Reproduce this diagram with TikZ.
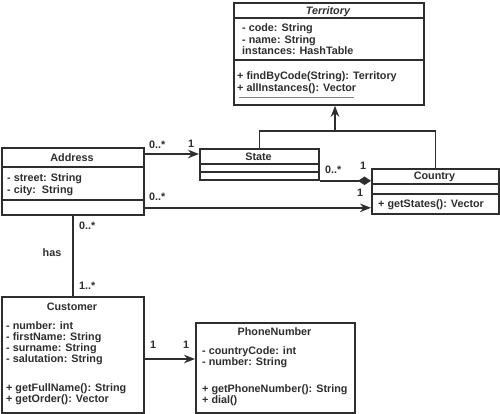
\documentclass[tikz,border=0pt]{standalone}
\usepackage{fontspec}
\setmainfont{Liberation Sans}
\usetikzlibrary{arrows.meta,calc}
\definecolor{ink}{HTML}{2E2E2E}
\begin{document}
\begin{tikzpicture}[x=1pt,y=-1pt,
  cls/.style={draw=ink, line width=1.8pt, inner sep=0pt, anchor=north west, fill=white},
  base/.style={inner sep=0pt, text=ink, font=\fontsize{10.8}{12}\selectfont\bfseries},
  txt/.style={base, anchor=base west},
  ttl/.style={base, anchor=base},
  link/.style={draw=ink, line width=1.6pt},
  arr/.style={link, -{Stealth[length=11pt,width=8.5pt]}},
  comp/.style={link, -{Diamond[length=13pt,width=8.5pt]}},
  sep/.style={draw=ink, line width=1.6pt}]
\path[use as bounding box] (0,0) rectangle (500,413);

% ---------- class boxes ----------
\node[cls, minimum width=190pt, minimum height=102pt] (terr) at (233,2) {};
\node[cls, minimum width=119pt, minimum height=31pt] (state) at (199,148) {};
\node[cls, minimum width=127pt, minimum height=45pt] (country) at (371,168) {};
\node[cls, minimum width=142pt, minimum height=67pt] (address) at (1,147) {};
\node[cls, minimum width=142pt, minimum height=116pt] (customer) at (1,296) {};
\node[cls, minimum width=159pt, minimum height=90pt] (phone) at (195,322) {};

% ---------- compartment dividers ----------
\draw[sep] ([yshift=-16pt]terr.north west) -- ([yshift=-16pt]terr.north east);
\draw[sep] ([yshift=-58pt]terr.north west) -- ([yshift=-58pt]terr.north east);
\draw[sep] ([yshift=-16pt]state.north west) -- ([yshift=-16pt]state.north east);
\draw[sep] ([yshift=-24pt]state.north west) -- ([yshift=-24pt]state.north east);
\draw[sep] ([yshift=-16pt]country.north west) -- ([yshift=-16pt]country.north east);
\draw[sep] ([yshift=-26pt]country.north west) -- ([yshift=-26pt]country.north east);
\draw[sep] ([yshift=-20pt]address.north west) -- ([yshift=-20pt]address.north east);
\draw[sep] ([yshift=-53pt]address.north west) -- ([yshift=-53pt]address.north east);

% ---------- Territory ----------
\node[ttl, font=\fontsize{10.8}{12}\selectfont\bfseries\itshape] (terrT) at (328,14.5) {Territory};
\node[txt] (terrA1) at (242,31.6) {- code: String};
\node[txt] (terrA2) at (242,43) {- name: String};
\node[txt] (terrA3) at (242,54.6) {instances: HashTable};
\node[txt] (terrM1) at (237,79.6) {+ findByCode(String): Territory};
\node[txt] (terrM2) at (237,91.6) {+ allInstances(): Vector};
\draw[draw=ink!60, line width=1.1pt] ([xshift=2pt,yshift=-6pt]terrM2.base west) -- ([xshift=-2pt,yshift=-6pt]terrM2.base east);

% ---------- State ----------
\node[ttl] (stateT) at (258.5,160.6) {State};

% ---------- Country ----------
\node[ttl] (countryT) at (434.5,179.6) {Country};
\node[txt] (countryM1) at (378,207.6) {+ getStates(): Vector};

% ---------- Address ----------
\node[ttl] (addressT) at (72,161.6) {Address};
\node[txt] (addressA1) at (7,181.6) {- street: String};
\node[txt] (addressA2) at (7,193.6) {- city:\ \ String};

% ---------- Customer ----------
\node[ttl] (customerT) at (72,310.6) {Customer};
\node[txt] (customerA1) at (6,329.6) {- number: int};
\node[txt] (customerA2) at (6,340.6) {- firstName: String};
\node[txt] (customerA3) at (6,351.6) {- surname: String};
\node[txt] (customerA4) at (6,362.6) {- salutation: String};
\node[txt] (customerM1) at (6,391.6) {+ getFullName(): String};
\node[txt] (customerM2) at (6,402.6) {+ getOrder(): Vector};

% ---------- PhoneNumber ----------
\node[ttl] (phoneT) at (274.5,335.6) {PhoneNumber};
\node[txt] (phoneA1) at (202,354.6) {- countryCode: int};
\node[txt] (phoneA2) at (202,365.6) {- number: String};
\node[txt] (phoneM1) at (202,392.6) {+ getPhoneNumber(): String};
\node[txt] (phoneM2) at (202,403.6) {+ dial()};

% ---------- connectors ----------
\coordinate (a1) at ([yshift=-7pt]address.north east);
\draw[arr] (a1) -- (a1 -| state.west);
\coordinate (a2) at ([yshift=8pt]address.south east);
\draw[arr] (a2) -- (a2 -| country.west);
\draw[comp] (state.south east) -- (state.south east -| country.west);
\draw[link] (address.south) -- (customer.north);
\coordinate (c1) at ([yshift=-63pt]customer.north east);
\draw[arr] (c1) -- (c1 -| phone.west);
\coordinate (g) at (335,131);
\draw[link] (state.north) |- (g) -| (country.north);
\draw[arr] (g) -- (g |- terr.south);

% ---------- multiplicities ----------
\node[txt] (m1) at (149,148.6) {0..*};
\node[txt] (m2) at (188,147) {1};
\node[txt] (m3) at (149,200.6) {0..*};
\node[txt] (m4) at (357,196) {1};
\node[txt] (m5) at (325,173.6) {0..*};
\node[txt] (m6) at (360,169) {1};
\node[txt] (m7) at (79,229.6) {0..*};
\node[ttl] (has) at (52,256.6) {has};
\node[txt] (m8) at (79,289.6) {1..*};
\node[txt] (m9) at (150,348) {1};
\node[txt] (m10) at (183,348) {1};
\end{tikzpicture}
\end{document}
